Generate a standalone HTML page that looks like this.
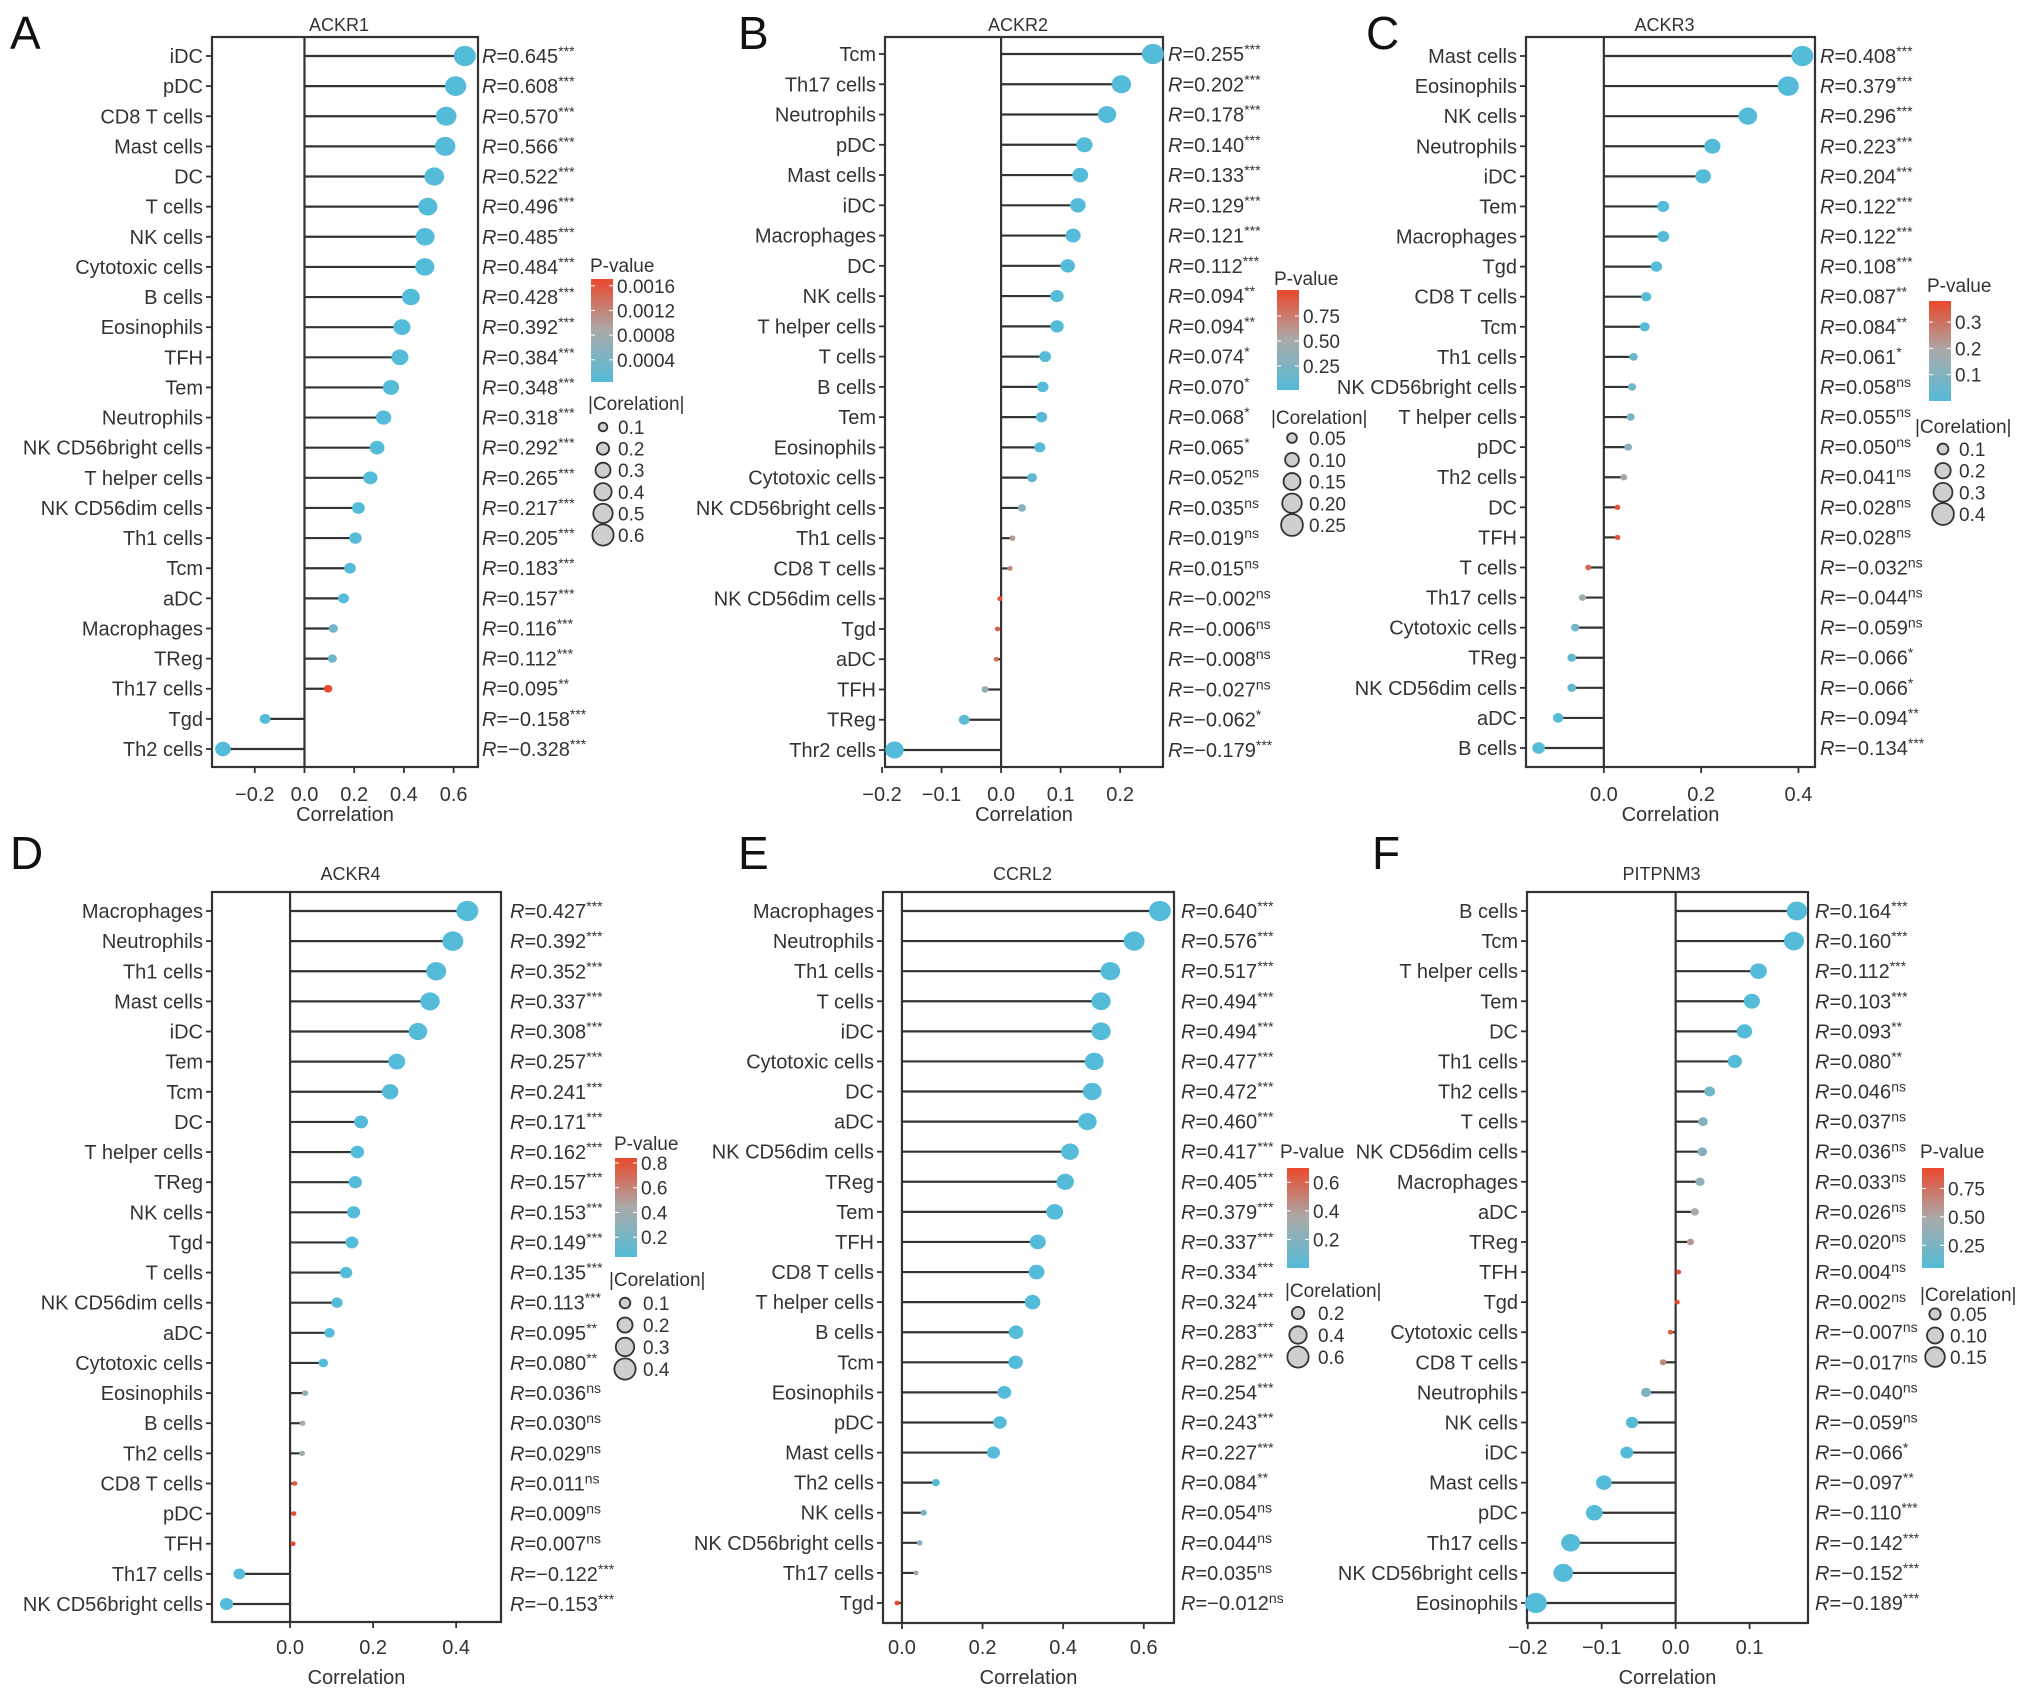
<!DOCTYPE html>
<html><head><meta charset="utf-8"><style>
html,body{margin:0;padding:0;background:#fff;}
svg{display:block;font-family:"Liberation Sans",Arial,sans-serif;}
</style></head>
<body>
<svg id="chart" width="2032" height="1696" viewBox="0 0 2032 1696" xmlns="http://www.w3.org/2000/svg"></svg>
<script>
// ---------- DATA ----------
const catsA=["iDC","pDC","CD8 T cells","Mast cells","DC","T cells","NK cells","Cytotoxic cells","B cells","Eosinophils","TFH","Tem","Neutrophils","NK CD56bright cells","T helper cells","NK CD56dim cells","Th1 cells","Tcm","aDC","Macrophages","TReg","Th17 cells","Tgd","Th2 cells"];
const valsA=[0.645,0.608,0.570,0.566,0.522,0.496,0.485,0.484,0.428,0.392,0.384,0.348,0.318,0.292,0.265,0.217,0.205,0.183,0.157,0.116,0.112,0.095,-0.158,-0.328];
const sigA=["***","***","***","***","***","***","***","***","***","***","***","***","***","***","***","***","***","***","***","***","***","**","***","***"];
const pA=[0,0,0,0,0,0,0,0,0,0,0,0,0,0,0,0,0,0,0,0.0003,0.0003,0.0017,0,0];
const ticksA=[-0.2,0,0.2,0.4,0.6];
const pTicksA=[0.0004,0.0008,0.0012,0.0016];
const sizeTicksA=[0.1,0.2,0.3,0.4,0.5,0.6];

const catsB=["Tcm","Th17 cells","Neutrophils","pDC","Mast cells","iDC","Macrophages","DC","NK cells","T helper cells","T cells","B cells","Tem","Eosinophils","Cytotoxic cells","NK CD56bright cells","Th1 cells","CD8 T cells","NK CD56dim cells","Tgd","aDC","TFH","TReg","Thr2 cells"];
const valsB=[0.255,0.202,0.178,0.140,0.133,0.129,0.121,0.112,0.094,0.094,0.074,0.070,0.068,0.065,0.052,0.035,0.019,0.015,-0.002,-0.006,-0.008,-0.027,-0.062,-0.179];
const sigB=["***","***","***","***","***","***","***","***","**","**","*","*","*","*","ns","ns","ns","ns","ns","ns","ns","ns","*","***"];
const pB=[0,0,0,0,0,0,0,0,0.003,0.003,0.02,0.03,0.03,0.04,0.1,0.3,0.6,0.68,0.97,0.88,0.85,0.4,0.05,0];
const ticksB=[-0.2,-0.1,0,0.1,0.2];
const pTicksB=[0.25,0.50,0.75];
const sizeTicksB=[0.05,0.10,0.15,0.20,0.25];

const catsC=["Mast cells","Eosinophils","NK cells","Neutrophils","iDC","Tem","Macrophages","Tgd","CD8 T cells","Tcm","Th1 cells","NK CD56bright cells","T helper cells","pDC","Th2 cells","DC","TFH","T cells","Th17 cells","Cytotoxic cells","TReg","NK CD56dim cells","aDC","B cells"];
const valsC=[0.408,0.379,0.296,0.223,0.204,0.122,0.122,0.108,0.087,0.084,0.061,0.058,0.055,0.050,0.041,0.028,0.028,-0.032,-0.044,-0.059,-0.066,-0.066,-0.094,-0.134];
const sigC=["***","***","***","***","***","***","***","***","**","**","*","ns","ns","ns","ns","ns","ns","ns","ns","ns","*","*","**","***"];
const pC=[0,0,0,0,0,0,0,0,0.004,0.005,0.05,0.07,0.08,0.12,0.2,0.36,0.36,0.32,0.17,0.06,0.03,0.03,0.005,0];
const ticksC=[0,0.2,0.4];
const pTicksC=[0.1,0.2,0.3];
const sizeTicksC=[0.1,0.2,0.3,0.4];

const catsD=["Macrophages","Neutrophils","Th1 cells","Mast cells","iDC","Tem","Tcm","DC","T helper cells","TReg","NK cells","Tgd","T cells","NK CD56dim cells","aDC","Cytotoxic cells","Eosinophils","B cells","Th2 cells","CD8 T cells","pDC","TFH","Th17 cells","NK CD56bright cells"];
const valsD=[0.427,0.392,0.352,0.337,0.308,0.257,0.241,0.171,0.162,0.157,0.153,0.149,0.135,0.113,0.095,0.080,0.036,0.030,0.029,0.011,0.009,0.007,-0.122,-0.153];
const sigD=["***","***","***","***","***","***","***","***","***","***","***","***","***","***","**","**","ns","ns","ns","ns","ns","ns","***","***"];
const pD=[0,0,0,0,0,0,0,0,0,0,0,0,0,0,0.003,0.008,0.32,0.38,0.38,0.8,0.82,0.84,0,0];
const ticksD=[0,0.2,0.4];
const pTicksD=[0.2,0.4,0.6,0.8];
const sizeTicksD=[0.1,0.2,0.3,0.4];

const catsE=["Macrophages","Neutrophils","Th1 cells","T cells","iDC","Cytotoxic cells","DC","aDC","NK CD56dim cells","TReg","Tem","TFH","CD8 T cells","T helper cells","B cells","Tcm","Eosinophils","pDC","Mast cells","Th2 cells","NK cells","NK CD56bright cells","Th17 cells","Tgd"];
const valsE=[0.640,0.576,0.517,0.494,0.494,0.477,0.472,0.460,0.417,0.405,0.379,0.337,0.334,0.324,0.283,0.282,0.254,0.243,0.227,0.084,0.054,0.044,0.035,-0.012];
const sigE=["***","***","***","***","***","***","***","***","***","***","***","***","***","***","***","***","***","***","***","**","ns","ns","ns","ns"];
const pE=[0,0,0,0,0,0,0,0,0,0,0,0,0,0,0,0,0,0,0,0.007,0.14,0.2,0.3,0.7];
const ticksE=[0,0.2,0.4,0.6];
const pTicksE=[0.2,0.4,0.6];
const sizeTicksE=[0.2,0.4,0.6];

const catsF=["B cells","Tcm","T helper cells","Tem","DC","Th1 cells","Th2 cells","T cells","NK CD56dim cells","Macrophages","aDC","TReg","TFH","Tgd","Cytotoxic cells","CD8 T cells","Neutrophils","NK cells","iDC","Mast cells","pDC","Th17 cells","NK CD56bright cells","Eosinophils"];
const valsF=[0.164,0.160,0.112,0.103,0.093,0.080,0.046,0.037,0.036,0.033,0.026,0.020,0.004,0.002,-0.007,-0.017,-0.040,-0.059,-0.066,-0.097,-0.110,-0.142,-0.152,-0.189];
const sigF=["***","***","***","***","**","**","ns","ns","ns","ns","ns","ns","ns","ns","ns","ns","ns","ns","*","**","***","***","***","***"];
const pF=[0,0,0.001,0.002,0.004,0.01,0.2,0.3,0.3,0.36,0.47,0.57,0.9,0.95,0.85,0.65,0.25,0.06,0.04,0.002,0,0,0,0];
const ticksF=[-0.2,-0.1,0,0.1];
const pTicksF=[0.25,0.50,0.75];
const sizeTicksF=[0.05,0.10,0.15];

// ---------- LAYOUT ----------
const panels=[
 {id:"a",letter:"A",lx:10,ly:49,title:"ACKR1",cats:catsA,vals:valsA,sig:sigA,p:pA,ticks:ticksA,pTicks:pTicksA,sTicks:sizeTicksA,
  box:[212,37,478,767],dom:[-0.372,0.698],rows:[56,749],rx:482,pr:[0.00004,0.00171],
  pt:[590,272],bar:[591,279,382],st:[588,410],sy:[427,535],scx:603,stx:618,tickY:801,xlabY:821,titleY:31},
 {id:"b",letter:"B",lx:738,ly:49,title:"ACKR2",cats:catsB,vals:valsB,sig:sigB,p:pB,ticks:ticksB,pTicks:pTicksB,sTicks:sizeTicksB,
  box:[885,37,1163,767],dom:[-0.195,0.272],rows:[54,750],rx:1168,pr:[0.01,1.01],
  pt:[1274,285],bar:[1277,290,390],st:[1271,424],sy:[438,525],scx:1292,stx:1309,tickY:801,xlabY:821,titleY:31},
 {id:"c",letter:"C",lx:1366,ly:49,title:"ACKR3",cats:catsC,vals:valsC,sig:sigC,p:pC,ticks:ticksC,pTicks:pTicksC,sTicks:sizeTicksC,
  box:[1526,37,1815,767],dom:[-0.160,0.434],rows:[56,748],rx:1820,pr:[0,0.38],
  pt:[1927,292],bar:[1929,301,401],st:[1915,433],sy:[449,514],scx:1943,stx:1959,tickY:801,xlabY:821,titleY:31},
 {id:"d",letter:"D",lx:10,ly:869,title:"ACKR4",cats:catsD,vals:valsD,sig:sigD,p:pD,ticks:ticksD,pTicks:pTicksD,sTicks:sizeTicksD,
  box:[212,892,501,1622],dom:[-0.188,0.508],rows:[911,1604],rx:510,pr:[0.04,0.84],
  pt:[614,1150],bar:[615,1158,1257],st:[609,1286],sy:[1303,1369],scx:625,stx:643,tickY:1654,xlabY:1684,titleY:880},
 {id:"e",letter:"E",lx:738,ly:869,title:"CCRL2",cats:catsE,vals:valsE,sig:sigE,p:pE,ticks:ticksE,pTicks:pTicksE,sTicks:sizeTicksE,
  box:[883,892,1174,1623],dom:[-0.047,0.675],rows:[911,1603],rx:1181,pr:[0,0.7],
  pt:[1280,1158],bar:[1287,1168,1268],st:[1285,1297],sy:[1313,1357],scx:1298,stx:1318,tickY:1654,xlabY:1684,titleY:880},
 {id:"f",letter:"F",lx:1372,ly:869,title:"PITPNM3",cats:catsF,vals:valsF,sig:sigF,p:pF,ticks:ticksF,pTicks:pTicksF,sTicks:sizeTicksF,
  box:[1527,892,1808,1623],dom:[-0.201,0.179],rows:[911,1603],rx:1815,pr:[0.05,0.93],
  pt:[1920,1158],bar:[1922,1168,1268],st:[1920,1301],sy:[1314,1357],scx:1935,stx:1950,tickY:1654,xlabY:1684,titleY:880}
];

const NS="http://www.w3.org/2000/svg";
const svg=document.getElementById("chart");
function mk(tag,attrs,parent){const e=document.createElementNS(NS,tag);for(const k in attrs)e.setAttribute(k,attrs[k]);(parent||svg).appendChild(e);return e;}
const BLUE=[84,187,216],GREY=[170,170,170],RED=[234,72,44];
function col(t){t=Math.max(0,Math.min(1,t));let a,b,u;if(t<0.5){a=BLUE;b=GREY;u=t/0.5;}else{a=GREY;b=RED;u=(t-0.5)/0.5;}
 return "rgb("+a.map((v,i)=>Math.round(v+(b[i]-v)*u)).join(",")+")";}
function fmtTick(v){return (v<0?"\u2212":"")+Math.abs(v).toFixed(1);}
function fmtR(v){return (v<0?"\u2212":"")+Math.abs(v).toFixed(3);}
const TXT="#333";

panels.forEach(P=>{
  const g=mk("g",{});
  
  
  const [x0,y0,x1,y1]=P.box;
  const xs=v=>x0+(v-P.dom[0])/(P.dom[1]-P.dom[0])*(x1-x0);
  const n=P.cats.length;
  const ys=i=>P.rows[0]+i*(P.rows[1]-P.rows[0])/(n-1);
  const maxAbs=Math.max(...P.vals.map(Math.abs));
  const rad=v=>Math.max(2.6,11*Math.sqrt(Math.abs(v)/maxAbs));
  const pcol=p=>col((p-P.pr[0])/(P.pr[1]-P.pr[0]));

  const L=mk("text",{x:P.lx,y:P.ly,"font-size":46,fill:"#111"},g);L.textContent=P.letter;
  
  
  const T=mk("text",{x:(x0+x1)/2-6,y:P.titleY,"font-size":18,fill:TXT,"text-anchor":"middle"},g);T.textContent=P.title;
  
  

  const box=mk("rect",{x:x0,y:y0,width:x1-x0,height:y1-y0,fill:"none",stroke:"#333","stroke-width":2.2},g);
  
  
  const z=mk("line",{x1:xs(0),x2:xs(0),y1:y0,y2:y1,stroke:"#333","stroke-width":2.2},g);
  
  

  P.ticks.forEach(t=>{
    const tx=xs(t);
    const tl=mk("line",{x1:tx,x2:tx,y1:y1,y2:y1+6,stroke:"#333","stroke-width":1.8},g);
    
    
    const tt=mk("text",{x:tx,y:P.tickY,"font-size":20,fill:TXT,"text-anchor":"middle"},g);tt.textContent=fmtTick(t);
    
    
  });
  const xl=mk("text",{x:(x0+x1)/2,y:P.xlabY,"font-size":20,fill:TXT,"text-anchor":"middle"},g);xl.textContent="Correlation";
  
  

  P.cats.forEach((c,i)=>{
    const y=ys(i),v=P.vals[i];
    const tk=mk("line",{x1:x0-6,x2:x0,y1:y,y2:y,stroke:"#333","stroke-width":1.8},g);
    
    
    const lb=mk("text",{x:x0-9,y:y+7,"font-size":20,fill:TXT,"text-anchor":"end"},g);lb.textContent=c;
    
    
    const st=mk("line",{x1:xs(0),x2:xs(v),y1:y,y2:y,stroke:"#333","stroke-width":2.2},g);
    
    
    const r=rad(v);
    const dot=mk("ellipse",{cx:xs(v),cy:y,rx:r,ry:r*0.92,fill:pcol(P.p[i])},g);
    
    
    const rt=mk("text",{x:P.rx,y:y+7,"font-size":20,fill:TXT},g);
    
    
    const a=mk("tspan",{"font-style":"italic"},rt);a.textContent="R";
    const b=mk("tspan",{},rt);b.textContent="="+fmtR(v);
    const s=mk("tspan",{"font-size":14,dy:-7},rt);s.textContent=P.sig[i];
  });

  // P-value legend
  const pt=mk("text",{x:P.pt[0],y:P.pt[1],"font-size":19,fill:TXT},g);pt.textContent="P-value";
  
  
  const gid="grad"+P.id;
  const defs=mk("defs",{},g);
  const lg=mk("linearGradient",{id:gid,x1:0,y1:1,x2:0,y2:0},defs);
  for(let k=0;k<=10;k++){mk("stop",{offset:k/10,"stop-color":col(k/10)},lg);}
  const [bx,by0,by1]=P.bar;
  const cb=mk("rect",{x:bx,y:by0,width:22,height:by1-by0,fill:"url(#"+gid+")"},g);
  
  
  P.pTicks.forEach(t=>{
    const ty=by1-(t-P.pr[0])/(P.pr[1]-P.pr[0])*(by1-by0);
    mk("line",{x1:bx,x2:bx+4,y1:ty,y2:ty,stroke:"#fff","stroke-width":1},g);
    mk("line",{x1:bx+18,x2:bx+22,y1:ty,y2:ty,stroke:"#fff","stroke-width":1},g);
    const tl=mk("text",{x:bx+26,y:ty+7,"font-size":19,fill:TXT},g);
    tl.textContent=(P.id==="a")?t.toFixed(4):(P.id==="b"||P.id==="f")?t.toFixed(2):t.toFixed(1);
    
    
  });

  // size legend
  const s0=mk("text",{x:P.st[0],y:P.st[1],"font-size":19,fill:TXT},g);s0.textContent="|Corelation|";
  
  
  const m=P.sTicks.length;
  P.sTicks.forEach((t,k)=>{
    const cy=P.sy[0]+(m>1?k*(P.sy[1]-P.sy[0])/(m-1):0);
    const c=mk("circle",{cx:P.scx,cy:cy,r:rad(t),fill:"#cfcfcf",stroke:"#333","stroke-width":1.8},g);
    
    
    const tl=mk("text",{x:P.stx,y:cy+7,"font-size":19,fill:TXT},g);
    tl.textContent=(P.id==="b"||P.id==="f")?t.toFixed(2):t.toFixed(1);
    
    
  });
});
</script>
</body></html>
